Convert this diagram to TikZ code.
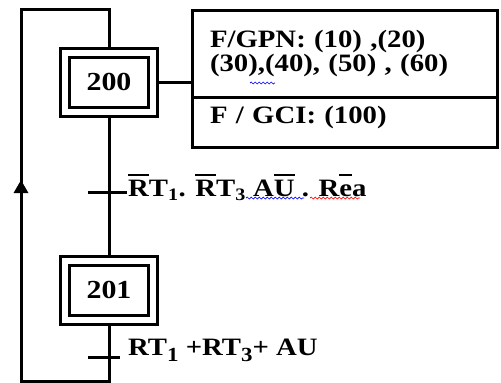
\documentclass[tikz,border=0pt]{standalone}
\usepackage{fontspec}
\setmainfont{Liberation Serif}[FakeStretch=1.15]
\usetikzlibrary{arrows.meta,decorations.pathmorphing}

\newcommand{\ovbar}[1]{\setbox0\hbox{#1}\rlap{\raisebox{\dimexpr\fontcharht\font`R+4pt\relax}{\rule{\wd0}{2.5pt}}}\box0}
\newcommand{\lowsub}[1]{\raisebox{-6pt}{\fontsize{20}{20}\selectfont #1}}

\tikzset{
  stepbox/.style={draw, line width=3pt, double, double distance=6pt,
    minimum width=88pt, minimum height=59pt, outer sep=4.5pt, inner sep=0pt,
    font=\fontsize{26}{28}\selectfont\bfseries},
  actbox/.style={draw, line width=3pt, minimum width=305pt, text width=269pt,
    inner xsep=18pt, align=left, outer sep=0pt,
    font=\fontsize{25}{24}\selectfont\bfseries},
  cond/.style={anchor=west, inner sep=0pt, font=\fontsize{25}{28}\selectfont\bfseries},
  link/.style={line width=3pt},
  spell/.style={line width=0.7pt, decorate, decoration={snake, amplitude=1pt, segment length=4pt}},
}

\begin{document}
\begin{tikzpicture}[x=1pt,y=-1pt]
	\useasboundingbox (0,0) rectangle (501,383);
	
	% steps and action
	\node[stepbox] (s200) at (109,82) {200};
	\node[stepbox] (s201) at (109,290) {201};
	\node[actbox, minimum height=87pt] (gpn) at (344.5,53.5) {F/GPN: (10) ,(20)\\(30),(40), (50) , (60)};
	\node[actbox, minimum height=50pt, text depth=14pt] (gci) at (344.5,122) {F / GCI: (100)};
	
	\coordinate (tr) at (109,9);
	\coordinate (tl) at (21,9);
	\coordinate (bl) at (21,381);
	\coordinate (br) at (109,381);
	\coordinate (arr) at (21,180);
	
	\draw[link] (s200.east) -- (s200.east -| gpn.west);
	\draw[link] (s200.south) -- (s201.north);
	\draw[link] (s201.south) -- (br) -- (bl) -- (arr);
	\draw[link,-{Triangle[width=14pt,length=13pt]}] (bl) -- (arr);
	\draw[link] (arr) -- (tl) -- (tr) -- (s200.north);
	
	% transitions
	\draw[link] (88,192) -- (127,192);
	\draw[link] (88,357) -- (120,357);
	\node[cond] (c1) at (128,187) {\ovbar{R}T\textsubscript{1}. \ovbar{R}T\textsubscript{3} A\ovbar{U}\ . R\ovbar{e}a};
	\node[cond] (c2) at (128,350) {RT\lowsub{1} +RT\lowsub{3}+ AU};
	
	\draw[spell,blue] (250,83) -- (275,83);
	\draw[spell,blue] (246,198) -- (304,198);
	\draw[spell,red] (310,198) -- (360,198);
\end{tikzpicture}
\end{document}
